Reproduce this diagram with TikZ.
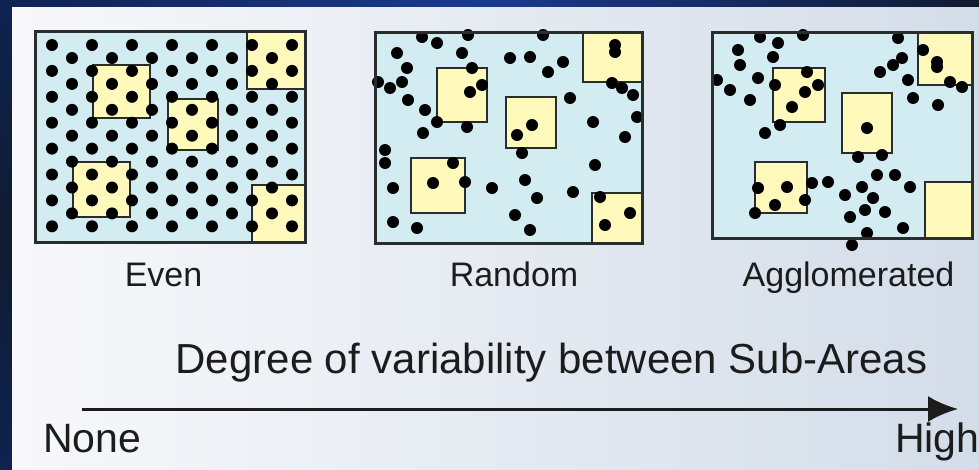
\documentclass[tikz,border=0pt]{standalone}
\usepackage{fontspec}
\setmainfont{Liberation Sans}
\usetikzlibrary{arrows.meta}
\definecolor{navyA}{HTML}{0E2350}
\definecolor{navyB}{HTML}{1A3A92}
\definecolor{navyC}{HTML}{101B30}
\definecolor{bgA}{HTML}{F8F8FB}
\definecolor{bgB}{HTML}{D3DDE9}
\definecolor{areablue}{HTML}{D2ECF2}
\definecolor{subyellow}{HTML}{FFF9BC}
\definecolor{edge}{HTML}{2A2D2E}
\definecolor{ink}{HTML}{1C1C1C}
\tikzset{
  area/.style={fill=areablue},
  areaedge/.style={draw=edge, line width=3pt},
  sub/.style={fill=subyellow, draw=edge, line width=2.6pt},
  lbl/.style={text=ink, inner sep=0pt, font=\fontsize{34}{40}\selectfont},
  big/.style={text=ink, inner sep=0pt, font=\fontsize{41}{48}\selectfont},
  axis/.style={draw=ink, line width=3pt, -{Latex[length=30pt,width=26pt]}}
}
\begin{document}
\begin{tikzpicture}[x=1pt,y=-1pt]
\useasboundingbox (0,0) rectangle (979,469);
% background
\fill[navyA] (0,0) rectangle (979,469);
\shade[left color=navyA, right color=navyC, middle color=navyB] (0,0) rectangle (979,7);
\shade[top color=navyA, bottom color=navyA, middle color=navyC] (0,7) rectangle (12,469);
\shade[left color=bgA, right color=bgB] (12,7) rectangle (979,469);

% ---------- Even ----------
\fill[area] (35,31) rectangle (305,242);
\draw[sub] (247,31) rectangle (305,89);
\draw[sub] (93,65) rectangle (150,118);
\draw[sub] (168,99) rectangle (218,150);
\draw[sub] (73,162) rectangle (130,217);
\draw[sub] (252,185) rectangle (305,242);
\foreach \c in {0,2,...,12} \foreach \k in {0,...,7}
  \fill ({52+20*\c},{45+25.9*\k}) circle (6pt);
\foreach \c in {1,3,...,11} \foreach \k in {0,...,6}
  \fill ({52+20*\c},{58+25.9*\k}) circle (6pt);
\draw[areaedge] (35,31) rectangle (305,242);

% ---------- Random ----------
\fill[area] (375,32) rectangle (642,243);
\draw[sub] (583,32) rectangle (642,82);
\draw[sub] (437,68) rectangle (487,122);
\draw[sub] (506,97) rectangle (556,148);
\draw[sub] (411,158) rectangle (465,213);
\draw[sub] (592,193) rectangle (642,243);
\foreach \x/\y in {422/37,437/43,468/35,543/35,615/45,615/52,397/53,407/68,462/53,472/68,
  510/58,530/57,563/62,548/72,378/82,390/88,402/82,482/85,470/92,408/100,425/110,437/122,
  423/133,467/127,570/98,612/83,622/88,633/95,637/117,593/122,625/137,532/125,517/135,
  522/153,385/150,385/163,453/163,433/183,465/182,393/188,492/188,525/180,537/198,573/192,
  595/165,600/197,630/213,605/225,515/215,530/230,393/222,417/228}
  \fill (\x,\y) circle (6pt);
\draw[areaedge] (375,32) rectangle (642,243);

% ---------- Agglomerated ----------
\fill[area] (712,32) rectangle (972,238);
\draw[sub] (918,32) rectangle (972,85);
\draw[sub] (773,68) rectangle (825,122);
\draw[sub] (842,93) rectangle (892,153);
\draw[sub] (755,162) rectangle (807,213);
\draw[sub] (925,182) rectangle (972,238);
\foreach \x/\y in {760/37,778/43,803/35,773/57,738/50,740/65,717/80,730/90,758/78,750/100,
  775/85,807/72,818/85,805/92,792/107,780/125,765/133,898/38,902/58,893/65,880/72,908/80,
  923/50,937/62,937/67,950/82,962/87,913/98,938/105,867/128,858/157,882/155,758/188,
  787/187,812/183,828/182,805/200,775/205,755/213,845/195,862/187,877/175,895/175,910/187,
  873/198,865/210,885/212,850/217,903/228,867/233,852/245}
  \fill (\x,\y) circle (6pt);
\draw[areaedge] (712,32) rectangle (972,238);

% ---------- labels ----------
\node[lbl, anchor=base] (even) at (163.5,286) {Even};
\node[lbl, anchor=base] (random) at (514,286) {Random};
\node[lbl, anchor=base] (aggl) at (848.5,286) {Agglomerated};
\node[big, anchor=base, font=\fontsize{42}{50}\selectfont] (degree) at (551.5,373) {Degree of variability between Sub-Areas};
\node[big, anchor=base west] (none) at (43,452) {None};
\node[big, anchor=base west] (high) at (895,452) {High};
\coordinate (axstart) at (82,409);
\coordinate (axend) at (958,409);
\draw[axis] (axstart) -- (axend);
\end{tikzpicture}
\end{document}
